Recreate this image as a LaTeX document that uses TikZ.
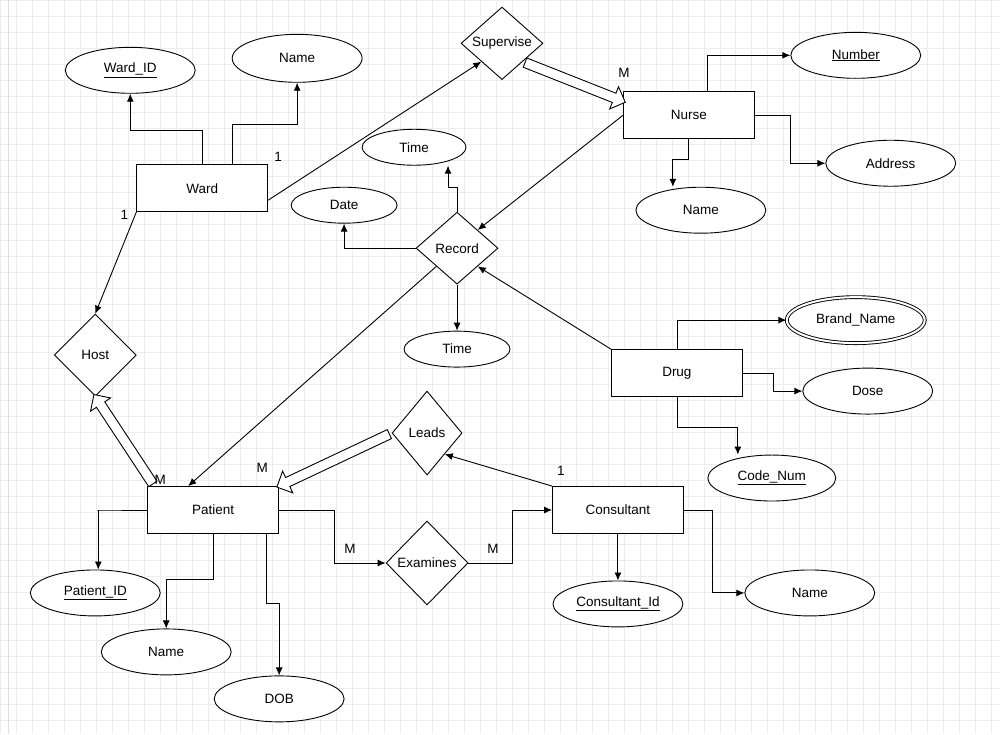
\documentclass[tikz,border=0pt]{standalone}
\usepackage{fontspec}
\setmainfont{Liberation Sans}
\usetikzlibrary{shapes.geometric,shapes.arrows,arrows.meta,calc}

\newcommand{\fatarrow}[2]{%
  \path let \p1=(#1), \p2=(#2), \n1={atan2(\y2-\y1,\x2-\x1)}, \n2={veclen(\x2-\x1,\y2-\y1)} in
    node[fat, minimum height=\n2, rotate=\n1] at ($(#1)!0.5!(#2)$) {};}

\begin{document}
\begin{tikzpicture}[x=1pt,y=-1pt,font=\fontsize{13.5}{16}\selectfont,line width=0.9pt,
    ent/.style={draw,rectangle,minimum width=131pt,minimum height=47pt,fill=white},
    rel/.style={draw,diamond,minimum width=82pt,minimum height=#1,inner sep=0pt,fill=white},
    rel/.default=82pt,
    att/.style={draw,ellipse,minimum width=130pt,minimum height=46pt,fill=white},
    con/.style={-{Latex[length=8pt,width=7pt]}},
    fat/.style={draw,single arrow,fill=white,inner sep=4.5pt,minimum width=24pt,single arrow head extend=7pt}]
  % background grid
  \fill[white] (0,0) rectangle (1000,734);
  \foreach \g in {0,16,...,1000} \draw[gray!14,line width=0.7pt] (\g,0) -- (\g,734);
  \foreach \g in {0,16,...,734} \draw[gray!14,line width=0.7pt] (0,\g) -- (1000,\g);
  \draw[gray!25,line width=0.6pt] (8,0) -- (8,734);
  \useasboundingbox (0,0) rectangle (1000,734);
  % entities
  \node[ent] (ward) at (202,188) {Ward};
  \node[ent] (nurse) at (689,115) {Nurse};
  \node[ent] (drug) at (677,373) {Drug};
  \node[ent] (patient) at (213,510) {Patient};
  \node[ent] (cons) at (618,510) {Consultant};
  % relationships
  \node[rel=72pt] (sup) at (502,43) {Supervise};
  \node[rel=72pt] (record) at (457,248) {Record};
  \node[rel] (host) at (95,355) {Host};
  \node[rel=84pt,minimum width=70pt] (leads) at (427,433) {Leads};
  \node[rel=84pt] (exam) at (427,563) {Examines};
  % attributes
  \node[att] (wardid) at (130,70) {\underline{Ward\_ID}};
  \node[att,minimum height=48pt] (wname) at (297,58) {Name};
  \node[att] (number) at (856,55) {\underline{Number}};
  \node[att] (addr) at (891,163) {Address};
  \node[att] (nname) at (701,210) {Name};
  \node[att,minimum width=104pt,minimum height=36pt] (time1) at (414,147) {Time};
  \node[att,minimum width=106pt,minimum height=36pt] (date) at (344,205) {Date};
  \node[att,minimum width=106pt,minimum height=36pt] (time2) at (457,349) {Time};
  \node[att,double,double distance=2pt,minimum width=138pt,minimum height=46pt] (brand) at (856,320) {Brand\_Name};
  \node[att] (dose) at (868,391) {Dose};
  \node[att,minimum width=128pt] (code) at (772,478) {\underline{Code\_Num}};
  \node[att] (pid) at (95,593) {\underline{Patient\_ID}};
  \node[att] (pname) at (166,652) {Name};
  \node[att] (dob) at (279,699) {DOB};
  \node[att] (cid) at (618,604) {\underline{Consultant\_Id}};
  \node[att] (cname) at (810,593) {Name};
  % attribute links
  \draw[con] (ward.north) -- ++(0,-34) -| (wardid.south);
  \draw[con] ([xshift=30pt]ward.north) -- ++(0,-40) -| (wname.south);
  \draw[con] ([xshift=19pt]nurse.north) |- (number.west);
  \draw[con] (nurse.east) -| ($(nurse.east)!0.5!(addr.west)$) |- (addr.west);
  \draw[con] (nurse.south) -- ++(0,20) -| ([xshift=-28pt]nname.north);
  \draw[con] (record.north) -- ++(0,-24) -| ([xshift=34pt]time1.south);
  \draw[con] (record.west) -| (date.south);
  \draw[con] (record.south) -- (time2.north);
  \draw[con] ([xshift=1pt]drug.north) |- (brand.west);
  \draw[con] (drug.east) -- ++(31,0) |- (dose.west);
  \draw[con] ([xshift=1pt]drug.south) -- ++(0,30) -| ([xshift=-34pt]code.north);
  \draw[con] (patient.west) -- ++(-50,0) -| ([xshift=3pt]pid.north);
  \draw[con] (patient.south) -- ++(0,46) -| (pname.north);
  \draw[con] ([xshift=53pt]patient.south) -- ++(0,70) -| (dob.north);
  \draw[con] (cons.south) -- (cid.north);
  \draw[con] (cons.east) -- ++(29,0) |- (cname.west);
  % relationship links
  \draw[con] ([yshift=-12pt]ward.east) -- (sup.south west);
  \draw[con] (nurse.west) -- (record.north east);
  \draw[con] (record.south west) -- ([xshift=-25pt]patient.north);
  \draw[con] (drug.north west) -- (record.south east);
  \draw[con] (ward.south west) -- (host.north);
  \draw[con] (cons.north west) -- (leads.south east);
  \draw[con] (patient.east) -- ++(55,0) |- (exam.west);
  \draw[con] (exam.east) -- ++(44,0) |- (cons.west);
  \fatarrow{sup.south east}{[yshift=-10pt]nurse.north west}
  \fatarrow{[xshift=7pt]patient.north west}{host.south}
  \fatarrow{leads.west}{patient.north east}
  % cardinalities
  \node at (278,157) {1};
  \node at (124,215) {1};
  \node at (624,73) {M};
  \node at (160,480) {M};
  \node at (262,468) {M};
  \node at (561,471) {1};
  \node at (350,549) {M};
  \node at (493,549) {M};
\end{tikzpicture}
\end{document}
